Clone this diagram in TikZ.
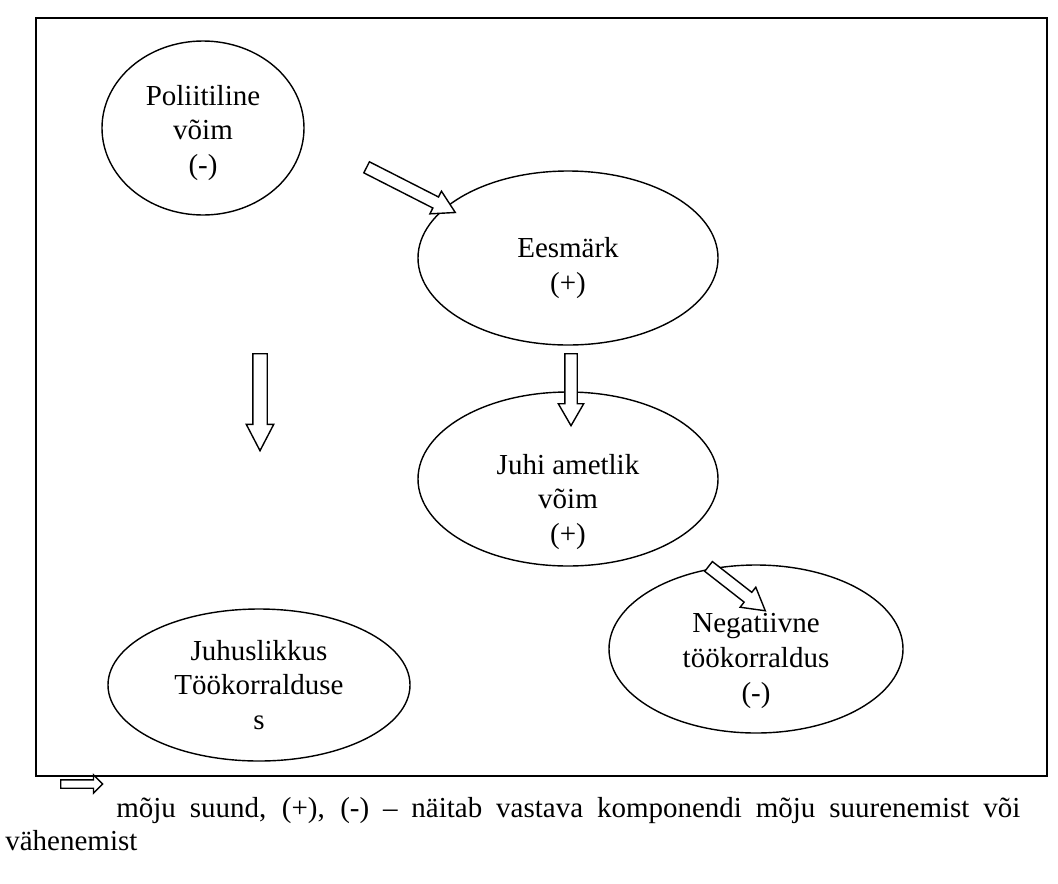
\documentclass[tikz,border=0pt]{standalone}
\usepackage{fontspec}
\setmainfont{Liberation Serif}
\usetikzlibrary{shapes.geometric,shapes.arrows,positioning}

\begin{document}
\begin{tikzpicture}[
  font=\fontsize{16.5}{19.8}\selectfont,
  oval/.style={draw, ellipse, line width=0.8pt, inner sep=0pt},
  lbl/.style={align=center, inner sep=0pt},
  blockarr/.style={single arrow, draw, line width=0.8pt, fill=white, inner sep=0pt,
                   anchor=tail, text height=0.22cm, text depth=0pt,
                   minimum height=1.44cm, single arrow head extend=0.13cm,
                   single arrow tip angle=60},
  legtext/.style={anchor=base west, inner sep=0pt},
]
\useasboundingbox (0,0) rectangle (21.16,-17.66);
% frame
\draw[line width=1pt] (0.72,-0.36) rectangle (20.94,-15.52);
% components
\node[oval, minimum width=4.04cm, minimum height=3.48cm] (pol) at (4.06,-2.56) {};
\node[oval, minimum width=6cm, minimum height=3.48cm] (eesm) at (11.36,-5.16) {};
\node[oval, minimum width=6cm, minimum height=3.48cm] (juhi) at (11.36,-9.58) {};
\node[oval, minimum width=6.04cm, minimum height=3.04cm] (juhus) at (5.18,-13.7) {};
\node[oval, minimum width=5.88cm, minimum height=3.36cm] (neg) at (15.12,-12.98) {};
\node[lbl] (polT) at ([yshift=-0.1cm]pol.center) {Poliitiline\\võim\\(-)};
\node[lbl] (eesmT) at ([yshift=-0.2cm]eesm.center) {Eesmärk\\(+)};
\node[lbl] (juhiT) at ([yshift=-0.46cm]juhi.center) {Juhi ametlik\\võim\\(+)};
\node[lbl] (juhusT) at (juhus.center) {Juhuslikkus\\Töökorralduse\\s};
\node[lbl] (negT) at ([yshift=-0.24cm]neg.center) {Negatiivne\\töökorraldus\\(-)};
% influence arrows
\node[blockarr, rotate=-27, minimum height=1.99cm] (a1) at (7.32,-3.34) {};
\node[blockarr, rotate=-90] (a2) at (11.42,-7.06) {};
\node[blockarr, rotate=-90, minimum height=1.94cm, text height=0.26cm,
      single arrow tip angle=55] (a3) at (5.2,-7.06) {};
\node[blockarr, rotate=-38] (a4) at (14.16,-11.32) {};
% legend
\node[blockarr, minimum height=0.84cm, text height=0.14cm,
      single arrow head extend=0.1cm, single arrow tip angle=90] (leg) at (1.2,-15.68) {};
\node[legtext] (leg1) at (2.32,-16.34) {\makebox[18.08cm][s]{mõju suund, (+), (-) – näitab vastava komponendi mõju suurenemist või}};
\node[legtext] (leg2) at (0.1,-17.0) {vähenemist};
\end{tikzpicture}
\end{document}
